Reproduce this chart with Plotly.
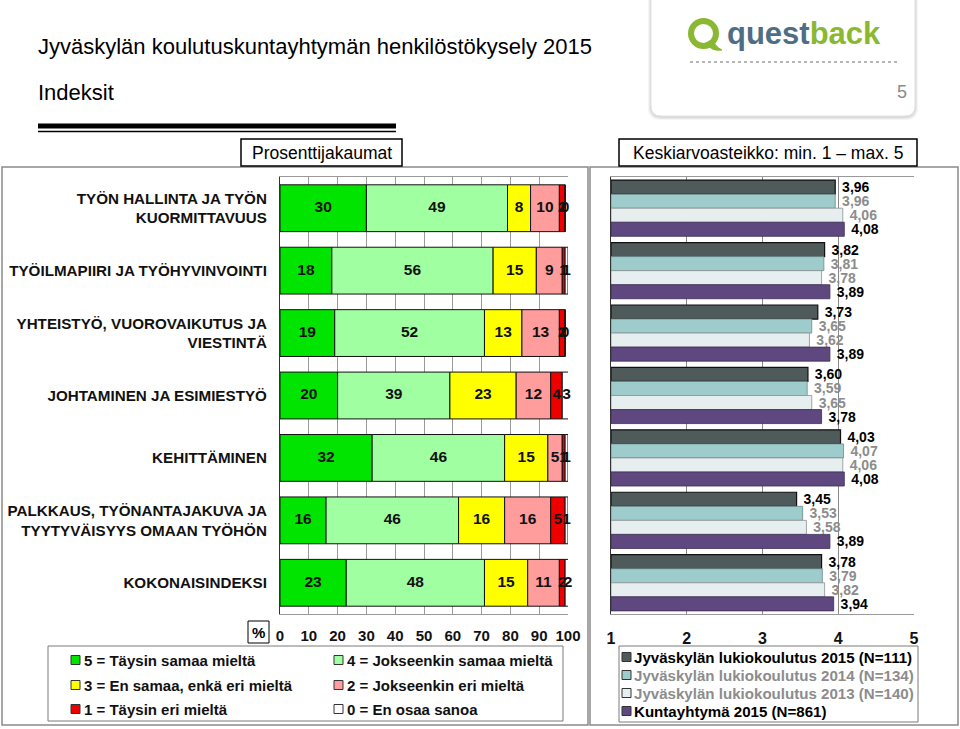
import plotly.graph_objects as go

# ---------------- data ----------------
categories = [
    "TYÖN HALLINTA JA TYÖN<br>KUORMITTAVUUS",
    "TYÖILMAPIIRI JA TYÖHYVINVOINTI",
    "YHTEISTYÖ, VUOROVAIKUTUS JA<br>VIESTINTÄ",
    "JOHTAMINEN JA ESIMIESTYÖ",
    "KEHITTÄMINEN",
    "PALKKAUS, TYÖNANTAJAKUVA JA<br>TYYTYVÄISYYS OMAAN TYÖHÖN",
    "KOKONAISINDEKSI",
]
resp_labels = [
    "5 = Täysin samaa mieltä",
    "4 = Jokseenkin samaa mieltä",
    "3 = En samaa, enkä eri mieltä",
    "2 = Jokseenkin eri mieltä",
    "1 = Täysin eri mieltä",
    "0 = En osaa sanoa",
]
pct_5 = [30, 18, 19, 20, 32, 16, 23]
pct_4 = [49, 56, 52, 39, 46, 46, 48]
pct_3 = [8, 15, 13, 23, 15, 16, 15]
pct_2 = [10, 9, 13, 12, 5, 16, 11]
pct_1 = [2, 1, 2, 4, 1, 5, 2]
pct_0 = [0, 1, 0, 3, 1, 1, 2]
pct_series = [pct_5, pct_4, pct_3, pct_2, pct_1, pct_0]
pct_colors = ["#00e400", "#a0ffa0", "#ffff00", "#ff9c9c", "#ee0000", "#ffffff"]

mean_names = [
    "Jyväskylän lukiokoulutus 2015 (N=111)",
    "Jyväskylän lukiokoulutus 2014 (N=134)",
    "Jyväskylän lukiokoulutus 2013 (N=140)",
    "Kuntayhtymä 2015 (N=861)",
]
mean_2015 = [3.96, 3.82, 3.73, 3.60, 4.03, 3.45, 3.78]
mean_2014 = [3.96, 3.81, 3.65, 3.59, 4.07, 3.53, 3.79]
mean_2013 = [4.06, 3.78, 3.62, 3.65, 4.06, 3.58, 3.82]
mean_kunta = [4.08, 3.89, 3.89, 3.78, 4.08, 3.89, 3.94]
mean_series = [mean_2015, mean_2014, mean_2013, mean_kunta]
mean_colors = ["#4f5a5a", "#9ecbcc", "#e7eef0", "#5f4780"]
mean_lines = ["#111111", "#6d8a8a", "#8a9090", "#3d2c55"]
mean_text_colors = ["#000000", "#8c8c8c", "#8c8c8c", "#000000"]

pct_ticks = list(range(0, 101, 10))
mean_ticks = [1, 2, 3, 4, 5]

# ---------------- helpers ----------------
W, H = 960, 729
def X(p):
    return p / W
def Y(p):
    return 1 - p / H

FONT = "Liberation Sans, Arial, sans-serif"

fig = go.Figure()

# ---------------- left: stacked percentages ----------------
cum = [0] * len(categories)
label_x, label_y, label_t = [], [], []
for vals, col, name in zip(pct_series, pct_colors, resp_labels):
    fig.add_trace(go.Bar(
        y=categories, x=vals, base=cum[:], orientation="h",
        marker=dict(color=col, line=dict(color="#111111", width=1)),
        width=0.75, name=name, showlegend=False,
        xaxis="x", yaxis="y", hoverinfo="x+name",
    ))
    for i, v in enumerate(vals):
        label_x.append(cum[i] + v / 2)
        label_y.append(categories[i])
        label_t.append(str(v))
    cum = [c + v for c, v in zip(cum, vals)]

fig.add_trace(go.Scatter(
    x=label_x, y=label_y, text=label_t, mode="text",
    textfont=dict(family=FONT, size=15.5, color="#111111", weight="bold"),
    showlegend=False, hoverinfo="skip", xaxis="x", yaxis="y", cliponaxis=False,
))

# ---------------- right: means ----------------
bw = 0.225
for k, (vals, col, lc, tc, name) in enumerate(zip(mean_series, mean_colors, mean_lines, mean_text_colors, mean_names)):
    fig.add_trace(go.Bar(
        y=categories, x=[v - 1 for v in vals], base=1, orientation="h",
        width=bw, offset=-0.45 + k * bw,
        marker=dict(color=col, line=dict(color=lc, width=1.2 if k == 0 else 0.8)),
        text=["&nbsp;" + f"{v:.2f}".replace(".", ",") for v in vals],
        textposition="outside", constraintext="none", cliponaxis=False,
        textfont=dict(family=FONT, size=14, color=tc, weight="bold"),
        name=name, showlegend=False, xaxis="x2", yaxis="y2",
        hovertext=[f"{v:.2f}" for v in vals], hoverinfo="text+name",
    ))

ydom = [Y(614), Y(177)]
fig.update_layout(
    width=W, height=H, margin=dict(l=0, r=0, t=0, b=0, autoexpand=False),
    paper_bgcolor="white", plot_bgcolor="white",
    barmode="overlay", font=dict(family=FONT, color="#111111"),
    xaxis=dict(domain=[X(280), X(568)], range=[0, 100], tickvals=pct_ticks,
               showgrid=True, gridcolor="#9a9a9a", gridwidth=1, automargin=False,
               showline=True, linecolor="#9a9a9a", mirror=True, zeroline=False,
               tickfont=dict(family=FONT, size=15, color="#111111", weight="bold"),
               ticks="", ticklabelstandoff=8, fixedrange=True),
    yaxis=dict(domain=ydom, type="category", autorange="reversed", automargin=False,
               showline=True, linecolor="#333333", linewidth=1.2, showgrid=False,
               tickfont=dict(family=FONT, size=15.2, color="#111111", weight="bold"),
               ticks="", ticklabelstandoff=9, fixedrange=True),
    xaxis2=dict(domain=[X(611), X(914)], range=[1, 5], tickvals=mean_ticks,
                showgrid=True, gridcolor="#8a8a8a", gridwidth=1, automargin=False,
                showline=True, linecolor="#9a9a9a", mirror=True, zeroline=False,
                tickfont=dict(family=FONT, size=16, color="#111111", weight="bold"),
                ticks="", ticklabelstandoff=10, anchor="y2", fixedrange=True),
    yaxis2=dict(domain=ydom, type="category", autorange="reversed", anchor="x2",
                automargin=False,
                showline=True, linecolor="#333333", linewidth=1.2, mirror=False,
                showticklabels=False, showgrid=False, ticks="", fixedrange=True),
)

shapes = []
ann = []

def rect(x0, y0, x1, y1, line="#000", lw=1, fill=None, layer="above"):
    shapes.append(dict(type="rect", xref="paper", yref="paper",
                       x0=X(x0), x1=X(x1), y0=Y(y1), y1=Y(y0),
                       line=dict(color=line, width=lw),
                       fillcolor=fill if fill else "rgba(0,0,0,0)", layer=layer))

def hline(x0, x1, y, color="#000", lw=1, dash="solid"):
    shapes.append(dict(type="line", xref="paper", yref="paper",
                       x0=X(x0), x1=X(x1), y0=Y(y), y1=Y(y),
                       line=dict(color=color, width=lw, dash=dash)))

def text(x, y, s, size=14, color="#111", xanchor="left", weight="normal"):
    ann.append(dict(xref="paper", yref="paper", x=X(x), y=Y(y), text=s,
                    showarrow=False, xanchor=xanchor, yanchor="middle", borderpad=0,
                    font=dict(family=FONT, size=size, color=color, weight=weight)))

def rounded(x0, y0, x1, y1, r, fill, line, lw):
    p = (f"M {X(x0)},{Y(y0)} L {X(x1)},{Y(y0)} L {X(x1)},{Y(y1 - r)} "
         f"Q {X(x1)},{Y(y1)} {X(x1 - r)},{Y(y1)} L {X(x0 + r)},{Y(y1)} "
         f"Q {X(x0)},{Y(y1)} {X(x0)},{Y(y1 - r)} Z")
    shapes.append(dict(type="path", xref="paper", yref="paper", path=p,
                       fillcolor=fill, line=dict(color=line, width=lw), layer="below"))

# title
text(37, 47, "Jyväskylän koulutuskuntayhtymän henkilöstökysely 2015", size=22, color="#000")
text(37, 92, "Indeksit", size=22, color="#000")
hline(38, 396, 126, lw=5)
hline(38, 396, 131.5, lw=1.5)

# logo card
for i, a in enumerate([0.04, 0.05, 0.06]):
    rounded(651 - 3 + i, -10, 915 + 3 - i, 120 - i, 12, f"rgba(0,0,0,{a})", "rgba(0,0,0,0)", 0)
rounded(651, -10, 915, 116, 10, "white", "#e2e2e2", 1)
shapes.append(dict(type="circle", xref="paper", yref="paper",
                   x0=X(691), x1=X(716), y0=Y(46), y1=Y(21),
                   line=dict(color="#8ab833", width=6), fillcolor="rgba(0,0,0,0)"))
shapes.append(dict(type="path", xref="paper", yref="paper",
                   path=f"M {X(706)},{Y(43)} Q {X(712)},{Y(52)} {X(722)},{Y(50)} Q {X(714)},{Y(46)} {X(713)},{Y(39)} Z",
                   fillcolor="#8ab833", line=dict(color="#8ab833", width=1)))
text(726, 33, "<span style='color:#4f6d84'>quest</span><span style='color:#8ab833'>back</span>",
     size=31, weight="bold")
hline(690, 897, 62, color="#b5b5b5", lw=2, dash="dot")
text(908, 92, "5", size=18, color="#8a8a8a", xanchor="right")

# panels
rect(2, 167, 588, 725, line="#8a8a8a", lw=1.5, layer="below")
rect(590, 167, 958, 725, line="#8a8a8a", lw=1.5, layer="below")
rect(241, 139, 402, 166, line="#000", lw=1.5, fill="white")
rect(619, 139, 917, 166, line="#000", lw=1.5, fill="white")
text(321.5, 153, "Prosenttijakaumat", size=17.5, color="#000", xanchor="center")
text(768, 153, "Keskiarvoasteikko: min. 1 – max. 5", size=17.5, color="#000", xanchor="center")

# % box
rect(248, 621, 269, 643, line="#000", lw=1)
text(258.5, 632, "%", size=15, color="#000", xanchor="center", weight="bold")

# left legend
rect(48, 646, 563, 721, line="#7a7a7a", lw=1)
cols_x = [71, 334]
rows_y = [660, 685, 709]
for i, (name, col) in enumerate(zip(resp_labels, pct_colors)):
    cx = cols_x[i % 2]
    cy = rows_y[i // 2]
    rect(cx, cy - 4.5, cx + 9, cy + 4.5, line="#333333", lw=1, fill=col)
    text(cx + 12, cy, name, size=15, color="#111", weight="bold")

# right legend
rect(619, 646, 918, 722, line="#7a7a7a", lw=1)
for k, (name, col, tc) in enumerate(zip(mean_names, mean_colors, mean_text_colors)):
    cy = 657 + 18 * k
    rect(622, cy - 4.5, 631, cy + 4.5, line="#333333", lw=1, fill=col)
    text(633, cy, name, size=15.1, color=tc, weight="bold")

fig.update_layout(shapes=shapes, annotations=ann)
fig.write_html("out.html", config={"displayModeBar": False},
               post_script="document.body.style.margin='0px';")
